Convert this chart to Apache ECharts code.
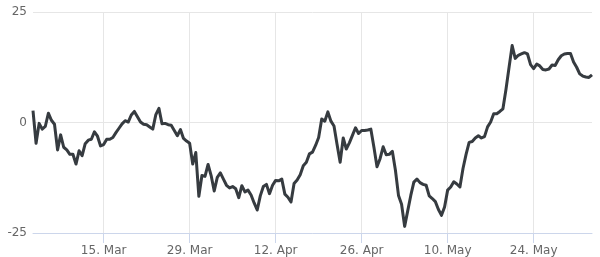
<!DOCTYPE html>
<html><head><meta charset="utf-8">
<script src="https://cdn.jsdelivr.net/npm/echarts@6/dist/echarts.min.js"></script>
<style>html,body{margin:0;padding:0;background:#fff}#c{width:600px;height:257px}</style>
</head><body><div id="c"></div><script>
const startDate = '2024-03-03T12:00:00Z';
const stepHours = 12;
const values = [
 2.7,-4.7,-0.2,-1.5,-0.9,2.1,0.5,-0.4,-6.2,-2.8,
 -5.6,-6.2,-7.2,-7.2,-9.4,-6.4,-7.5,-4.8,-4.0,-3.8,
 -2.1,-3.1,-5.3,-5.0,-3.8,-3.8,-3.4,-2.3,-1.3,-0.3,
 0.4,0.1,1.7,2.5,1.3,0.1,-0.4,-0.5,-1.0,-1.5,
 1.8,3.2,-0.3,-0.2,-0.5,-0.6,-1.8,-3.0,-1.6,-3.6,
 -4.2,-4.7,-9.4,-6.8,-16.7,-12.0,-12.2,-9.5,-12.0,-15.5,
 -12.4,-11.4,-12.8,-14.2,-14.8,-14.5,-15.0,-17.0,-14.3,-15.7,
 -15.3,-16.4,-18.2,-19.8,-16.6,-14.5,-14.0,-16.1,-14.2,-13.1,
 -13.2,-12.8,-16.2,-16.9,-18.0,-13.8,-13.0,-11.8,-9.8,-9.0,
 -7.1,-6.7,-5.2,-3.4,0.8,0.3,2.4,0.3,-0.8,-5.0,
 -9.0,-3.5,-6.0,-4.6,-2.9,-1.2,-2.5,-1.8,-1.8,-1.7,
 -1.5,-5.6,-10.0,-8.2,-5.5,-7.3,-7.2,-6.5,-10.8,-16.5,
 -18.5,-23.5,-20.0,-16.5,-13.5,-12.8,-13.6,-14.0,-14.2,-16.6,
 -17.2,-17.9,-19.7,-21.0,-19.1,-15.3,-14.6,-13.4,-13.9,-14.6,
 -10.4,-7.2,-4.5,-4.3,-3.5,-3.0,-3.5,-3.2,-1.0,0.1,
 2.0,2.0,2.5,3.1,7.5,12.5,17.4,14.5,15.2,15.5,
 15.8,15.5,13.1,12.2,13.2,12.8,12.0,11.9,12.1,13.0,
 12.9,14.2,15.1,15.5,15.6,15.6,13.7,12.5,11.0,10.5,
 10.3,10.2,10.8
];
const tickDates = ['2024-03-15','2024-03-29','2024-04-12','2024-04-26','2024-05-10','2024-05-24'];
const tickLabels = ['15. Mar','29. Mar','12. Apr','26. Apr','10. May','24. May'];
const yMin = -25, yMax = 25, yStep = 25;

const categories = values.map((_, i) =>
  new Date(Date.parse(startDate) + i * stepHours * 3600000).toISOString().slice(0, 16));
const tickKeys = tickDates.map(d => d + 'T00:00');
const isTick = (idx, val) => tickKeys.indexOf(val) >= 0;

const chart = echarts.init(document.getElementById('c'), null, {renderer: 'canvas'});
chart.setOption({
  animation: false,
  backgroundColor: '#ffffff',
  textStyle: {fontFamily: 'DejaVu Sans'},
  grid: {left: 33, right: 8, top: 12, bottom: 24},
  xAxis: {
    type: 'category',
    data: categories,
    boundaryGap: false,
    axisLine: {show: true, onZero: false, lineStyle: {color: '#ccd6eb', width: 1}},
    axisTick: {show: true, interval: isTick, length: 10, lineStyle: {color: '#ccd6eb'}},
    splitLine: {show: true, interval: isTick, lineStyle: {color: '#e6e6e6', width: 1}},
    axisLabel: {
      interval: isTick, margin: 12, color: '#666666', fontSize: 12,
      formatter: v => { const k = tickKeys.indexOf(v); return k >= 0 ? tickLabels[k] : ''; }
    }
  },
  yAxis: {
    type: 'value', min: yMin, max: yMax, interval: yStep,
    axisLine: {show: false}, axisTick: {show: false},
    splitLine: {show: true, lineStyle: {color: '#e6e6e6', width: 1}},
    axisLabel: {margin: 6, color: '#666666', fontSize: 12}
  },
  series: [{
    type: 'line', data: values, showSymbol: false, smooth: false,
    lineStyle: {color: '#363b40', width: 3, join: 'round'},
    itemStyle: {color: '#363b40'}
  }]
});
</script></body></html>
